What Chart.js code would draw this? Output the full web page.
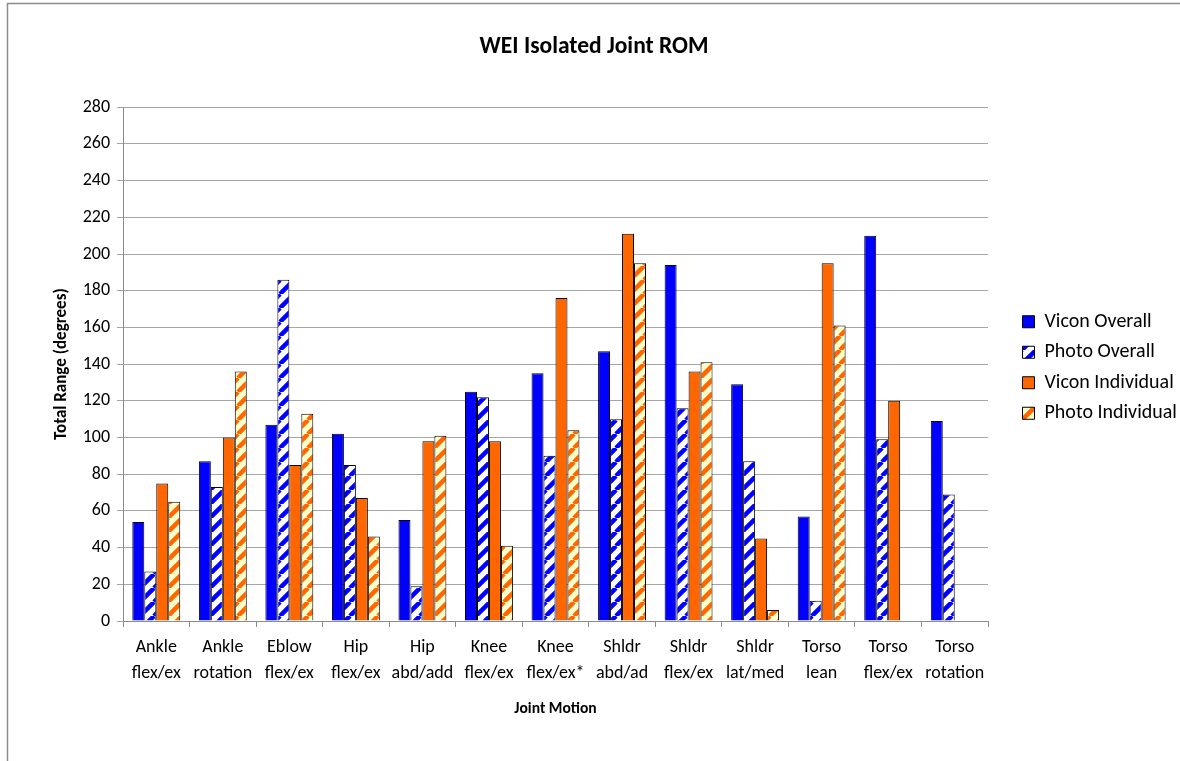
<!DOCTYPE html>
<html>
<head>
<meta charset="utf-8">
<script src="https://cdn.jsdelivr.net/npm/chart.js@4.4.1/dist/chart.umd.min.js"></script>
<style>
  html, body { margin: 0; padding: 0; background: #fff; }
  #wrap { width: 1180px; height: 761px; position: relative; }
</style>
</head>
<body>
<div id="wrap"><canvas id="c" width="1180" height="761"></canvas></div>
<script>
// Joint motions (two-line axis labels, split on the first space)
const categories = [
  'Ankle flex/ex', 'Ankle rotation', 'Eblow flex/ex', 'Hip flex/ex', 'Hip abd/add',
  'Knee flex/ex', 'Knee flex/ex*', 'Shldr abd/ad', 'Shldr flex/ex', 'Shldr lat/med',
  'Torso lean', 'Torso flex/ex', 'Torso rotation'
];

// Total range of motion, degrees
const viconOverall     = [54, 87, 107, 102, 55, 125, 135, 147, 194, 129, 57, 210, 109];
const photoOverall     = [27, 73, 186, 85, 19, 122, 90, 110, 116, 87, 11, 99, 69];
const viconIndividual  = [75, 100, 85, 67, 98, 98, 176, 211, 136, 45, 195, 120, null];
const photoIndividual  = [65, 136, 113, 46, 101, 41, 104, 195, 141, 6, 161, null, null];

const seriesNames = ['Vicon Overall', 'Photo Overall', 'Vicon Individual', 'Photo Individual'];
const yTicks = { min: 0, max: 280, step: 20 };

const FONT = 'Carlito, Lato, sans-serif';

// Legend column: fixed width, an inset that leaves a gap after the plot area,
// and a small downward nudge
const LEGEND_WIDTH = 192;
const LEGEND_INSET = 24;
const LEGEND_DROP = 7;

// Diagonal "/" hatch fill
function stripes(bg, fg) {
  const s = 14;
  const c = document.createElement('canvas');
  c.width = s; c.height = s;
  const g = c.getContext('2d');
  g.fillStyle = bg;
  g.fillRect(0, 0, s, s);
  g.strokeStyle = fg;
  g.lineWidth = 4.5;
  g.beginPath();
  for (let k = -1; k <= 1; k++) {
    g.moveTo(k * s, s);
    g.lineTo(k * s + s, 0);
  }
  g.stroke();
  return g.createPattern(c, 'repeat');
}

const BLUE = '#0000FF';
const ORANGE = '#FF6600';

// Thin outer frame of the chart object
const framePlugin = {
  id: 'frame',
  beforeDraw(chart) {
    const g = chart.ctx;
    g.save();
    g.fillStyle = '#fff';
    g.fillRect(0, 0, chart.width, chart.height);
    g.strokeStyle = '#8c8c8c';
    g.lineWidth = 1.5;
    g.beginPath();
    g.moveTo(7.5, chart.height + 5);
    g.lineTo(7.5, 3.5);
    g.lineTo(chart.width + 5, 3.5);
    g.stroke();
    g.restore();
  }
};

// Fixed-width legend column, pushed a little right of the plot area
const legendLayout = {
  id: 'legendLayout',
  beforeLayout(chart) {
    const lg = chart.legend;
    if (lg && !lg.__fixedWidth) {
      const fit = lg.fit.bind(lg);
      lg.fit = function () { fit(); this.width = LEGEND_WIDTH; };
      lg.__fixedWidth = true;
    }
  },
  afterLayout(chart) {
    const lg = chart.legend;
    if (lg) {
      lg.left += LEGEND_INSET;
      lg.top += LEGEND_DROP;
      lg.bottom += LEGEND_DROP;
    }
  }
};

const ctx = document.getElementById('c').getContext('2d');
new Chart(ctx, {
  type: 'bar',
  data: {
    labels: categories.map(s => {
      const i = s.indexOf(' ');
      return [s.slice(0, i), s.slice(i + 1)];
    }),
    datasets: [
      { label: seriesNames[0], data: viconOverall, backgroundColor: BLUE },
      { label: seriesNames[1], data: photoOverall, backgroundColor: stripes('#FFFFFF', BLUE) },
      { label: seriesNames[2], data: viconIndividual, backgroundColor: ORANGE },
      { label: seriesNames[3], data: photoIndividual, backgroundColor: stripes('#FFFFCC', ORANGE) }
    ].map(d => Object.assign(d, {
      borderColor: '#000',
      borderWidth: 1,
      borderSkipped: 'start',
      barPercentage: 1.0,
      categoryPercentage: 0.72
    }))
  },
  options: {
    responsive: false,
    animation: false,
    devicePixelRatio: 1,
    layout: { padding: { left: 8, right: 0, top: 0, bottom: 40 } },
    plugins: {
      title: {
        display: true,
        text: 'WEI Isolated Joint ROM',
        color: '#000',
        font: { family: FONT, size: 23.5, weight: 'bold', lineHeight: 1.2 },
        padding: { top: 33, bottom: 46 }
      },
      legend: {
        position: 'right',
        labels: {
          color: '#000',
          font: { family: FONT, size: 20, lineHeight: 1.2 },
          boxWidth: 12,
          boxHeight: 12,
          padding: 10.5
        }
      },
      tooltip: { enabled: false }
    },
    scales: {
      x: {
        grid: {
          offset: true,
          drawOnChartArea: false,
          drawTicks: true,
          tickLength: 6,
          color: '#8c8c8c'
        },
        border: { color: '#8c8c8c', width: 1 },
        ticks: {
          color: '#000',
          font: { family: FONT, size: 18, lineHeight: 1.47 },
          padding: 7,
          maxRotation: 0,
          autoSkip: false
        },
        title: {
          display: true,
          text: 'Joint Motion',
          color: '#000',
          font: { family: FONT, size: 15.6, weight: 'bold', lineHeight: 1.2 },
          padding: { top: 0, bottom: 3 }
        },
        afterFit(scale) { scale.height = 100; }
      },
      y: {
        min: yTicks.min,
        max: yTicks.max,
        ticks: {
          stepSize: yTicks.step,
          color: '#000',
          font: { family: FONT, size: 18 },
          padding: 7
        },
        grid: {
          color: '#a6a6a6',
          drawTicks: true,
          tickLength: 6,
          lineWidth: 1
        },
        border: { color: '#8c8c8c', width: 1 },
        title: {
          display: true,
          text: 'Total Range (degrees)',
          color: '#000',
          font: { family: FONT, size: 17, weight: 'bold', lineHeight: 1.2 },
          padding: { top: 44, bottom: 0 }
        },
        afterFit(scale) { scale.width = 115; }
      }
    }
  },
  plugins: [framePlugin, legendLayout]
});
</script>
</body>
</html>
